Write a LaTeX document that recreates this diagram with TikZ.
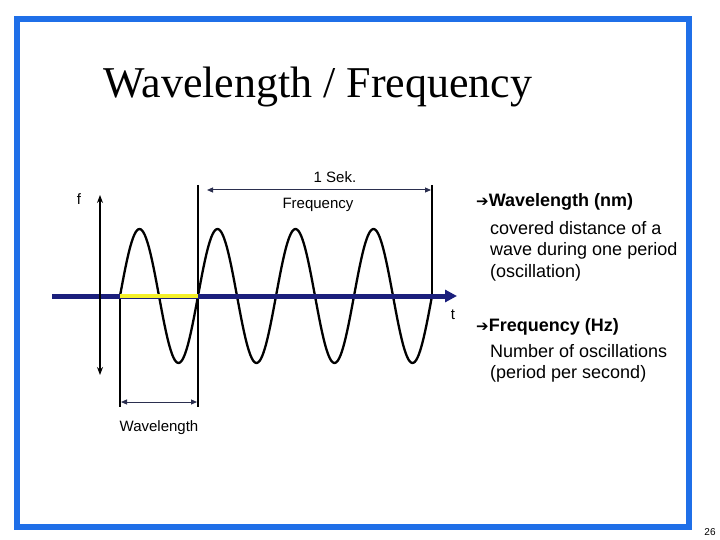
\documentclass[tikz,border=0pt]{standalone}
\usepackage{fontspec}
\setmainfont{Liberation Serif}
\newfontfamily\arialfont{Liberation Sans}
\newfontfamily\arrowfont{DejaVu Sans}
\usetikzlibrary{arrows.meta, positioning}
\definecolor{frameB}{HTML}{1F6FE8}
\definecolor{axisN}{HTML}{1B1F7C}
\definecolor{markY}{HTML}{F4F02A}
\definecolor{tipG}{HTML}{2B2F4F}
\newcommand{\pointer}{{\arrowfont\fontsize{15}{18}\selectfont ➔}}

\begin{document}
\begin{tikzpicture}[x=1pt, y=-1pt,
  lbl/.style ={font=\arialfont\fontsize{15}{17}\selectfont, inner sep=0pt},
  head/.style={font=\arialfont\bfseries\fontsize{18}{21}\selectfont, inner sep=0pt, anchor=base west},
  body/.style={font=\arialfont\fontsize{18}{21.5}\selectfont, inner sep=0pt, align=left, anchor=north west},
  dim/.style ={{Triangle[length=6pt,width=5pt]}-{Triangle[length=6pt,width=5pt]}, line width=1pt, draw=tipG},
  amp/.style ={{Stealth[length=8pt,width=6pt]}-{Stealth[length=8pt,width=6pt]}, line width=1.3pt},
  guide/.style={line width=1.3pt},
  wave/.style={line width=2.3pt, line join=round},
  axis/.style={-{Triangle[length=12pt,width=12pt]}, line width=5pt, draw=axisN}
]
\useasboundingbox (0,0) rectangle (720,540);
\draw[frameB, line width=6pt] (17,19) rectangle (689,527);

\node[font=\fontsize{44}{50}\selectfont, inner sep=0pt, anchor=base] (title) at (318,98) {Wavelength / Frequency};

% time axis and the marks on it
\coordinate (t0) at (52,296);
\coordinate (t1) at (457,296);
\coordinate (w0) at (120,296);
\coordinate (w1) at (198,296);
\coordinate (w4) at (432,296);
\coordinate (w0low) at (120,407);
\coordinate (w1low) at (198,407);
\coordinate (w1top) at (198,185);
\coordinate (w4top) at (432,185);

\draw[guide] (w0) -- (w0low);
\draw[guide] (w1top) -- (w1low);
\draw[guide] (w4top) -- (w4);

\draw[wave] plot[domain=0:4, samples=240] ({120+78*\x},{296-67*sin(360*\x)});

\draw[axis] (t0) -- (t1);
\draw[markY, line width=4.5pt] (w0) -- (w1);

% amplitude
\coordinate (ftop) at (100,195);
\coordinate (fbot) at (100,375);
\draw[amp] (ftop) -- (fbot);
\node[lbl] (flab) at (79,199) {f};
\node[lbl] (tlab) at (453,315) {t};

% one second
\coordinate (sekL) at (207,190);
\coordinate (sekR) at (431,190);
\draw[dim] (sekL) -- (sekR);
\node[lbl] (sek) at (335,177) {1 Sek.};
\node[lbl] (freq) at (318,205) {Frequency};

% one period
\coordinate (wlL) at (121,402);
\coordinate (wlR) at (197,402);
\draw[dim] (wlL) -- (wlR);
\node[lbl] (wl) at (159,428) {Wavelength};

% explanations
\node[head] (wlhead) at (476,207) {\pointer Wavelength (nm)};
\node[body] (wltext) at (490,221) {covered distance of a\\wave during one period\\(oscillation)};
\node[head] (frhead) at (476,331) {\pointer Frequency (Hz)};
\node[body] (frtext) at (490,344) {Number of oscillations\\(period per second)};

\node[font=\arialfont\fontsize{10}{12}\selectfont, inner sep=0pt] (page) at (710,532) {26};
\end{tikzpicture}
\end{document}
